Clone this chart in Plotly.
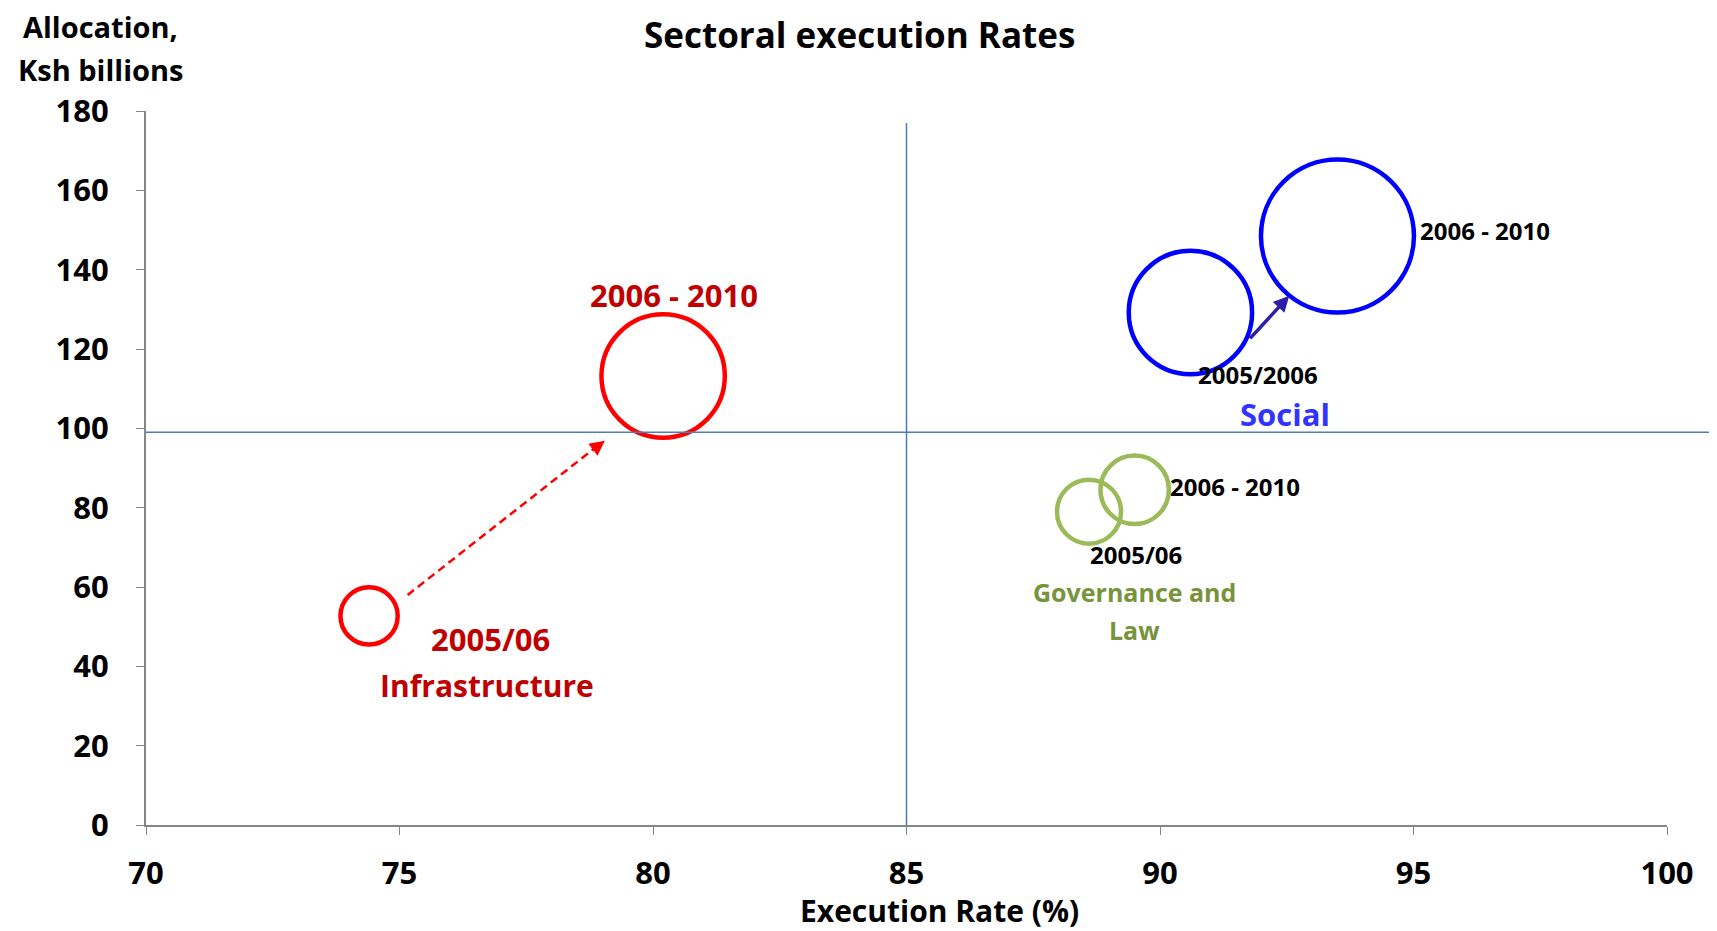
import plotly.graph_objects as go

# execution rate (%) / allocation (Ksh bn) / relative bubble size, 2005/06 then 2006 - 2010
infra_rate = [74.4, 80.2]
infra_alloc = [52.7, 113.2]
infra_size = [14, 65]

social_rate = [90.6, 93.5]
social_alloc = [129.2, 148.5]
social_size = [65, 100]

gov_rate = [88.6, 89.5]
gov_alloc = [79.0, 84.5]
gov_size = [17.5, 20]

avg_rate = 85
avg_alloc = 99

FONT = "Open Sans"
max_diam = 153
sizeref = 2.0 * max(infra_size + social_size + gov_size) / max_diam ** 2

fig = go.Figure()


def bubbles(x, y, s, color, name):
    fig.add_trace(
        go.Scatter(
            x=x,
            y=y,
            name=name,
            mode="markers",
            marker=dict(
                size=s,
                sizemode="area",
                sizeref=sizeref,
                opacity=1,
                color="rgba(0,0,0,0)",
                line=dict(color=color, width=4.5)
            ),
            showlegend=False
        )
    )


bubbles(infra_rate, infra_alloc, infra_size, "#FF0000", "Infrastructure")
bubbles(social_rate, social_alloc, social_size, "#0000FF", "Social")
bubbles(gov_rate, gov_alloc, gov_size, "#9BBB59", "Governance and Law")

# quadrant lines
fig.add_shape(type="line", xref="paper", yref="y", x0=0, x1=1.031,
              y0=avg_alloc, y1=avg_alloc, line=dict(color="#4A7EBB", width=1.5))
fig.add_shape(type="line", xref="x", yref="y", x0=avg_rate, x1=avg_rate,
              y0=0, y1=177, line=dict(color="#4A7EBB", width=1.5))

# infrastructure dashed arrow
fig.add_shape(type="line", xref="x", yref="y", x0=75.16, y0=58.0, x1=79.0, y1=96.5,
              line=dict(color="#FF0000", width=2.5, dash="8px,5px"))
fig.add_annotation(x=79.05, y=96.9, ax=-13, ay=10, text="", showarrow=True,
                   arrowhead=2, arrowsize=1.2, arrowwidth=2.5, arrowcolor="#FF0000")

# social arrow
fig.add_annotation(x=92.55, y=133.4, ax=91.75, ay=122.3, axref="x", ayref="y",
                   text="", showarrow=True, arrowhead=2, arrowsize=0.9,
                   arrowwidth=3.5, arrowcolor="#2E1FA8")


def label(x, y, text, color, size, xref="x", yref="y"):
    fig.add_annotation(x=x, y=y, xref=xref, yref=yref, text=text, showarrow=False,
                       xanchor="center", yanchor="middle",
                       font=dict(family=FONT, size=size, color=color, weight="bold"))


label(80.41, 133.6, "2006 - 2010", "#C00000", 31)
label(76.8, 46.9, "2005/06", "#C00000", 31)
label(76.72, 35.1, "Infrastructure", "#C00000", 30)

label(96.41, 149.9, "2006 - 2010", "#000000", 24)
label(91.94, 113.5, "2005/2006", "#000000", 24)
label(92.46, 103.5, "Social", "#3333FF", 31)

label(91.47, 85.3, "2006 - 2010", "#000000", 24)
label(89.52, 68.2, "2005/06", "#000000", 24)
label(89.5, 58.8, "Governance and", "#77933C", 25)
label(89.5, 49.1, "Law", "#77933C", 25)

label(0.469, 1.107, "Sectoral execution Rates", "#000000", 35, "paper", "paper")
label(-0.03, 1.119, "Allocation,", "#000000", 29, "paper", "paper")
label(-0.03, 1.058, "Ksh billions", "#000000", 29, "paper", "paper")
label(0.522, -0.1195, "Execution Rate (%)", "#000000", 30, "paper", "paper")

fig.update_layout(
    width=1709,
    height=923,
    margin=dict(l=137.6, r=50, t=102.6, b=106.3),
    plot_bgcolor="white",
    paper_bgcolor="white",
    xaxis=dict(
        range=[70, 100],
        dtick=5,
        showgrid=False,
        zeroline=False,
        showline=True,
        linecolor="#868686",
        linewidth=2,
        ticks="outside",
        ticklen=8,
        tickcolor="#868686",
        ticklabelstandoff=12,
        tickfont=dict(family=FONT, size=31, color="#000000", weight="bold")
    ),
    yaxis=dict(
        range=[0, 180],
        dtick=20,
        showgrid=False,
        zeroline=False,
        showline=True,
        linecolor="#868686",
        linewidth=2,
        ticks="outside",
        ticklen=8,
        tickcolor="#868686",
        ticklabelstandoff=21,
        tickfont=dict(family=FONT, size=31, color="#000000", weight="bold")
    )
)

fig.write_html("out.html")
